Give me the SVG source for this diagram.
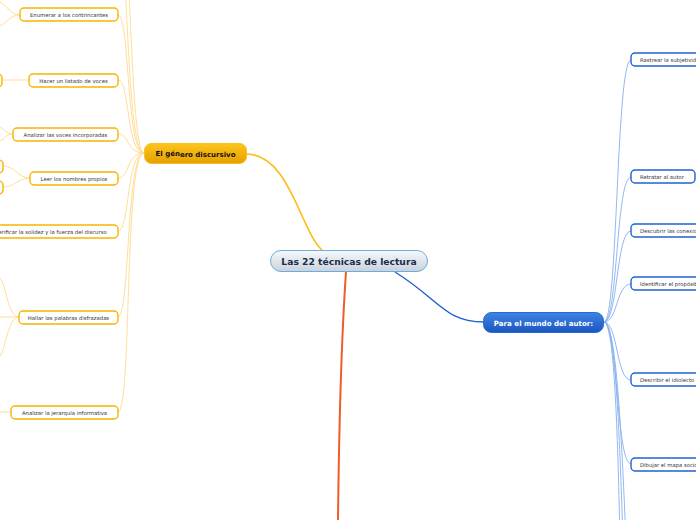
<svg xmlns="http://www.w3.org/2000/svg" width="696" height="520" viewBox="0 0 696 520">
<defs>
<linearGradient id="gC" x1="0" y1="0" x2="0" y2="1"><stop offset="0" stop-color="#f7f9fc"/><stop offset="1" stop-color="#c8d2dc"/></linearGradient>
<linearGradient id="gO" x1="0" y1="0" x2="0" y2="1"><stop offset="0" stop-color="#fcc51c"/><stop offset="1" stop-color="#e6a000"/></linearGradient>
<linearGradient id="gB" x1="0" y1="0" x2="0" y2="1"><stop offset="0" stop-color="#3f85e4"/><stop offset="1" stop-color="#1a56c0"/></linearGradient>
</defs>
<style>
.lo{fill:none;stroke:#ffd98c;stroke-width:0.9}
.lb{fill:none;stroke:#86b0ee;stroke-width:0.9}
.so{fill:#fff;stroke:#f7b500;stroke-width:1.4}
.sb{fill:#fff;stroke:#1f62d3;stroke-width:1.4}
.t{font-family:"DejaVu Sans",Verdana,sans-serif;font-size:5.3px;fill:#333}
.tm{text-anchor:middle}
</style>
<g id="connectors">
<path d="M322,250 C300,230 290,155 247,154" fill="none" stroke="#fbbd12" stroke-width="1.6"/>
<path d="M395,272 C440,300 445,322 484,322" fill="none" stroke="#1f5fcf" stroke-width="1.4"/>
<path d="M346,272 C342,330 339,430 338,520" fill="none" stroke="#f25a2a" stroke-width="2"/>
<path class="lo" d="M144,153 C128,153 128,-20 122,-40"/>
<path class="lo" d="M144,153 C132,153 131,-20 126,-40"/>
<path class="lo" d="M144,153 C126,153 130,15 118,15"/>
<path class="lo" d="M144,153 C126,153 130,80 118,80"/>
<path class="lo" d="M144,153 C126,153 130,134 118,134"/>
<path class="lo" d="M144,153 C126,153 130,178 118,178"/>
<path class="lo" d="M144,153 C126,153 130,231 118,231"/>
<path class="lo" d="M144,153 C126,153 130,317 118,317"/>
<path class="lo" d="M144,153 C124,153 132,412 118,412"/>
<path class="lo" d="M20,15 C10,15 8,6 0,2"/>
<path class="lo" d="M20,15 C10,15 8,22 0,26"/>
<path class="lo" d="M29,80 L2,80"/>
<path class="lo" d="M13,134 C6,134 5,129 0,127"/>
<path class="lo" d="M13,134 C6,134 5,139 0,141"/>
<path class="lo" d="M30,178 C18,178 15,166 3,166"/>
<path class="lo" d="M30,178 C18,178 15,187 3,187"/>
<path class="lo" d="M19,317 C8,317 6,285 0,278"/>
<path class="lo" d="M19,317 L0,317"/>
<path class="lo" d="M19,317 C8,317 6,348 0,356"/>
<path class="lo" d="M11,412 L0,412"/>
<path class="lb" d="M604,322 C618,322 616,60 631,60"/>
<path class="lb" d="M604,322 C618,322 616,177 631,177"/>
<path class="lb" d="M604,322 C618,322 616,231 631,231"/>
<path class="lb" d="M604,322 C618,322 616,284 631,284"/>
<path class="lb" d="M604,322 C618,322 616,380 631,380"/>
<path class="lb" d="M604,322 C618,322 616,464 631,464"/>
<path class="lb" d="M604,322 C615,322 618,450 620,540"/>
<path class="lb" d="M604,322 C616,322 620,450 623,540"/>
<path class="lb" d="M604,322 C617,322 622,450 626,540"/>
</g>
<g id="central">
<rect x="270.5" y="250.5" width="157" height="21" rx="10.5" fill="url(#gC)" stroke="#6aaee0" stroke-width="1"/>
<text x="349" y="264.5" text-anchor="middle" font-family="DejaVu Sans,Verdana,sans-serif" font-size="9.2" font-weight="bold" fill="#1c2b4e">Las 22 técnicas de lectura</text>
</g>
<g id="genero">
<rect x="144.5" y="143.5" width="102" height="20" rx="7" fill="url(#gO)" stroke="#f7bf20" stroke-width="1"/>
<text x="195.5" y="156" text-anchor="middle" font-family="DejaVu Sans,Verdana,sans-serif" font-size="7" font-weight="bold" fill="#111">El gén<tspan dy="1.2">ero discursivo</tspan></text>
</g>
<g id="autor">
<rect x="483.5" y="312.5" width="120" height="20" rx="8" fill="url(#gB)" stroke="#2a6ad0" stroke-width="1"/>
<text x="543.5" y="325.5" text-anchor="middle" font-family="DejaVu Sans,Verdana,sans-serif" font-size="7.1" font-weight="bold" fill="#fff">Para el mundo del autor:</text>
</g>
<g id="enumerar"><rect class="so" x="20" y="8" width="98" height="13" rx="4"/><text class="t tm" x="69" y="17">Enumerar a los contrincantes</text></g>
<g id="hacer"><rect class="so" x="29" y="74" width="89" height="13" rx="4"/><text class="t tm" x="73.5" y="83">Hacer un listado de voces</text></g>
<g id="analizar-voces"><rect class="so" x="13" y="128" width="105" height="13" rx="4"/><text class="t tm" x="65.5" y="137">Analizar las voces incorporadas</text></g>
<g id="leer"><rect class="so" x="30" y="172" width="88" height="13" rx="4"/><text class="t tm" x="74" y="181">Leer los nombres propios</text></g>
<g id="verificar"><rect class="so" x="-14" y="225" width="132" height="13" rx="4"/><text class="t tm" x="51" y="234">Verificar la solidez y la fuerza del discurso</text></g>
<g id="hallar"><rect class="so" x="19" y="311" width="99" height="13" rx="4"/><text class="t tm" x="68.5" y="320">Hallar las palabras disfrazadas</text></g>
<g id="jerarquia"><rect class="so" x="11" y="406" width="107" height="13" rx="4"/><text class="t tm" x="64.5" y="415">Analizar la jerarquía informativa</text></g>
<g id="left-a"><rect class="so" x="-20" y="74" width="22" height="13" rx="4"/></g>
<g id="left-b"><rect class="so" x="-20" y="160" width="23" height="13" rx="4"/></g>
<g id="left-c"><rect class="so" x="-20" y="181" width="23" height="13" rx="4"/></g>
<g id="rastrear"><rect class="sb" x="631" y="53" width="100" height="13" rx="4"/><text class="t" x="640" y="62">Rastrear la subjetividad</text></g>
<g id="retratar"><rect class="sb" x="631" y="170" width="64" height="13" rx="4"/><text class="t" x="640" y="179">Retratar al autor</text></g>
<g id="descubrir"><rect class="sb" x="631" y="224" width="100" height="13" rx="4"/><text class="t" x="640" y="233">Descubrir las conexiones</text></g>
<g id="identificar"><rect class="sb" x="631" y="277" width="100" height="13" rx="4"/><text class="t" x="640" y="286">Identificar el propósito</text></g>
<g id="idiolecto"><rect class="sb" x="631" y="373" width="100" height="13" rx="4"/><text class="t" x="640" y="382">Describir el idiolecto</text></g>
<g id="mapa"><rect class="sb" x="631" y="458" width="120" height="13" rx="4"/><text class="t" x="640" y="467">Dibujar el mapa sociocultural</text></g>
</svg>
